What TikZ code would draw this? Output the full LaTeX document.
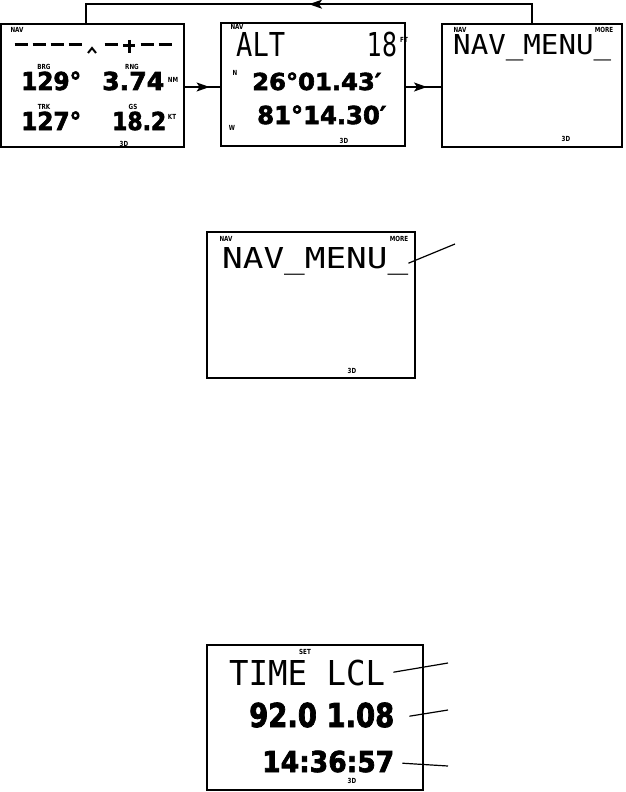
\documentclass[tikz,border=0pt]{standalone}
\usepackage{fontspec}
\usepackage{graphicx}
\setmainfont{DejaVu Sans}
\newfontfamily\monof{DejaVu Sans Mono}
\newfontfamily\segf{DejaVu Sans}[FakeBold=2.5]
\newfontfamily\lblf{DejaVu Sans}[FakeStretch=0.8]
\usetikzlibrary{arrows.meta,decorations.markings}
\newcommand\bigd[3]{\resizebox{#1pt}{#2pt}{\segf\bfseries\raisebox{0pt}[0.729em][0pt]{#3}}}
\newcommand\thint[3]{\resizebox{#1pt}{#2pt}{\monof\raisebox{0pt}[0.729em][0pt]{#3}}}
\newcommand\medd[3]{\resizebox{#1pt}{#2pt}{\raisebox{0pt}[0.729em][0pt]{#3}}}
\begin{document}
\begin{tikzpicture}[x=1pt,y=-1pt,
  box/.style={draw, line width=1.6pt, inner sep=0},
  lbl/.style={font=\lblf\bfseries\fontsize{7}{7}\selectfont, inner sep=0},
  num/.style={anchor=base west, inner sep=0},
  conn/.style={line width=1.4pt},
  leader/.style={line width=1.2pt},
  cdi/.style={line width=3pt},
  midarrow/.style={postaction={decorate}, decoration={markings,
      mark=at position #1 with {\arrow{Stealth[length=13pt,width=9pt,inset=3pt]}}}}]
\useasboundingbox (0,0) rectangle (625,792);

% ---------- boxes ----------
\node[box, minimum width=183pt, minimum height=123pt] (b1) at (92.5,85.5) {};
\node[box, minimum width=184pt, minimum height=123pt] (b2) at (313,84.5) {};
\node[box, minimum width=180pt, minimum height=123pt] (b3) at (532,85.5) {};
\node[box, minimum width=208pt, minimum height=146pt] (bm) at (311,305) {};
\node[box, minimum width=216pt, minimum height=145pt] (bb) at (315,717.5) {};

% ---------- connectors ----------
\coordinate (a1) at ([yshift=-1.5pt]b1.east);
\coordinate (a2) at ([yshift=-2.5pt]b2.east);
\draw[conn, midarrow=0.7] (a1) -- (a1 -| b2.west);
\draw[conn, midarrow=0.6] (a2) -- (a2 -| b3.west);
\draw[conn, midarrow=0.5] (b3.north) -- ++(0,-19) -| ([xshift=-6.5pt]b1.north);

% ---------- box 1 ----------
\node[lbl] (b1nav) at (17,30) {NAV};
\foreach \x in {21,39,57,75,111,147,165} \draw[cdi] (\x-6.5,45) -- (\x+6.5,45);
\draw[line width=2pt] (88,53) -- (92,48) -- (96,53);
\draw[cdi] (123,46) -- (135,46);
\draw[cdi] (129,40) -- (129,53);
\node[lbl] (b1brg) at (44,67) {BRG};
\node[lbl] (b1rng) at (132,67) {RNG};
\node[lbl] (b1nm) at (173,80) {NM};
\node[lbl] (b1trk) at (44,107) {TRK};
\node[lbl] (b1gs) at (133,107) {GS};
\node[lbl] (b1kt) at (172,117) {KT};
\node[lbl] (b13d) at (124,144) {3D};
\node[num] (b1brgv) at (21,90) {\bigd{60}{18}{129°}};
\node[num] (b1rngv) at (102,90) {\bigd{62}{18}{3.74}};
\node[num] (b1trkv) at (21,130) {\bigd{60}{18}{127°}};
\node[num] (b1gsv) at (112,130) {\bigd{54}{18}{18.2}};

% ---------- box 2 ----------
\node[lbl] (b2nav) at (237,27) {NAV};
\node[num] (b2alt) at (236,57) {\thint{49}{24}{ALT}};
\node[num] (b2altv) at (367,57) {\medd{30}{24}{18}};
\node[lbl] (b2ft) at (404,40) {FT};
\node[lbl] (b2n) at (235,73) {N};
\node[num] (b2lat) at (252,90) {\bigd{129}{17}{26°01.43′}};
\node[lbl] (b2w) at (232,128) {W};
\node[num] (b2lon) at (257,124) {\bigd{129}{18}{81°14.30′}};
\node[lbl] (b23d) at (344,141) {3D};

% ---------- box 3 ----------
\node[lbl] (b3nav) at (460,30) {NAV};
\node[lbl] (b3more) at (604,30) {MORE};
\node[num] (b3menu) at (453,55) {\thint{158}{20}{NAV\_MENU\_}};
\node[lbl] (b33d) at (566,139) {3D};

% ---------- middle box ----------
\node[lbl] (bmnav) at (226,239) {NAV};
\node[lbl] (bmmore) at (399,239) {MORE};
\node[num] (bmmenu) at (222,268) {\thint{186}{21}{NAV\_MENU\_}};
\node[lbl] (bm3d) at (352,371) {3D};
\coordinate (mL) at (455,244);
\draw[leader] ([shift={(0,-5)}]bmmenu.south east) -- (mL);

% ---------- bottom box ----------
\node[lbl] (bbset) at (305,652) {SET};
\node[num] (bbtime) at (229,685) {\thint{156}{25}{TIME LCL}};
\node[num] (bbdate) at (249,727) {\bigd{145}{24}{92.0 1.08}};
\node[num] (bbclock) at (262,772) {\bigd{132}{21}{14:36:57}};
\node[lbl] (bb3d) at (352,781) {3D};
\coordinate (L1) at (448,663);
\coordinate (L2) at (448,710);
\coordinate (L3) at (448,766);
\draw[leader] ([shift={(8,-13)}]bbtime.south east) -- (L1);
\draw[leader] ([shift={(15,-11)}]bbdate.south east) -- (L2);
\draw[leader] ([shift={(8,-9)}]bbclock.south east) -- (L3);
\end{tikzpicture}
\end{document}
